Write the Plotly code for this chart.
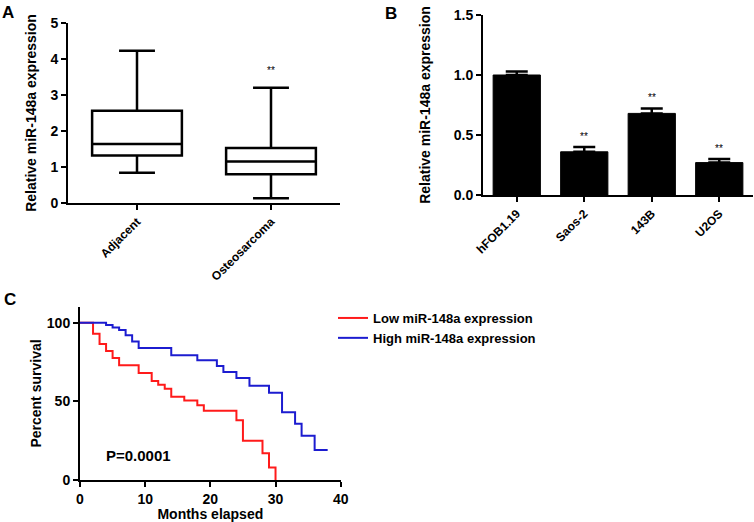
import plotly.graph_objects as go

W, H = 754, 522
FONT = "Liberation Sans, Arial, sans-serif"

# ---------------- Panel A: box plot data ----------------
box_groups = ["Adjacent", "Osteosarcoma"]
box_min = [0.84, 0.13]
box_q1 = [1.32, 0.80]
box_median = [1.64, 1.15]
box_q3 = [2.56, 1.53]
box_max = [4.23, 3.20]
box_sig = ["", "**"]
box_sig_y = [None, 3.67]

# ---------------- Panel B: bar data ----------------
cell_lines = ["hFOB1.19", "Saos-2", "143B", "U2OS"]
cell_expr = [1.00, 0.36, 0.68, 0.27]
cell_err = [0.03, 0.04, 0.04, 0.03]
cell_sig = ["", "**", "**", "**"]
cell_sig_y = [None, 0.49, 0.81, 0.39]

# ---------------- Panel C: Kaplan-Meier data ----------------
low_months = [0, 2, 3, 4, 5, 6, 9, 11, 12, 13, 14, 16, 18, 19, 24, 25, 28, 29, 30]
low_surv = [100, 93, 86.5, 82, 77.5, 73, 68, 63, 60.5, 58, 53, 50.5, 47.5, 44, 38, 25, 17, 8, 0]
high_months = [0, 4, 5, 6, 7, 8, 9, 14, 18, 21, 22, 24, 26, 29, 31, 33, 34, 36, 38]
high_surv = [100, 98.5, 97, 95.3, 92, 88, 84, 79.4, 76.2, 72.5, 68.7, 64.9, 60, 55.5, 43, 35.8, 28.2, 19, 19]
p_text = "P=0.0001"

fig = go.Figure()

for g, lo, q1, md, q3, hi in zip(box_groups, box_min, box_q1, box_median, box_q3, box_max):
    fig.add_trace(go.Box(
        x=[g], q1=[q1], median=[md], q3=[q3], lowerfence=[lo], upperfence=[hi],
        orientation="v", width=0.67, whiskerwidth=0.4,
        fillcolor="white", line=dict(color="black", width=2.5),
        boxpoints=False, showlegend=False, xaxis="x", yaxis="y",
    ))

fig.add_trace(go.Bar(
    x=cell_lines, y=cell_expr, width=0.7,
    marker=dict(color="black", line=dict(color="black", width=1)),
    error_y=dict(type="data", array=cell_err, symmetric=False,
                 arrayminus=[0] * len(cell_err), color="black",
                 thickness=2.5, width=11),
    showlegend=False, xaxis="x2", yaxis="y2",
))

fig.add_trace(go.Scatter(
    x=low_months, y=low_surv, mode="lines", name="Low miR-148a expression",
    line=dict(color="#ff1a1a", width=2, shape="hv"), xaxis="x3", yaxis="y3",
))
fig.add_trace(go.Scatter(
    x=high_months, y=high_surv, mode="lines", name="High miR-148a expression",
    line=dict(color="#1c1cd0", width=2, shape="hv"), xaxis="x3", yaxis="y3",
))


def px_x(a, b):
    return [a / W, b / W]


def px_y(bottom, top):
    return [1 - bottom / H, 1 - top / H]


tick_font = dict(family=FONT, size=14, color="black", weight="bold")
cat_font = dict(family=FONT, size=12, color="black", weight="bold")
title_font = dict(family=FONT, size=14, color="black", weight="bold")

common = dict(showline=True, linecolor="black", linewidth=2, ticks="outside",
              ticklen=5, tickwidth=2, tickcolor="black", showgrid=False,
              zeroline=False, fixedrange=True, automargin=False)

fig.update_layout(
    width=W, height=H, margin=dict(l=0, r=0, t=0, b=0),
    paper_bgcolor="white", plot_bgcolor="white",
    font=dict(family=FONT, color="black"),
    xaxis=dict(**common, domain=px_x(68, 340), range=[-0.515, 1.515],
               anchor="y", tickangle=-45, tickfont=cat_font),
    yaxis=dict(**common, domain=px_y(203, 23), range=[0, 5], dtick=1,
               anchor="x", tickfont=tick_font,
               title=dict(text="Relative miR-148a expression", font=title_font, standoff=11)),
    xaxis2=dict(**common, domain=px_x(483, 753), range=[-0.5, 3.5],
                anchor="y2", tickangle=-45, tickfont=cat_font),
    yaxis2=dict(**common, domain=px_y(195, 15), range=[0, 1.5],
                tickvals=[0, 0.5, 1.0, 1.5], tickformat=".1f",
                anchor="x2", tickfont=tick_font,
                title=dict(text="Relative miR-148a expression", font=title_font, standoff=20)),
    xaxis3=dict(**common, domain=px_x(80, 340.7), range=[0, 40], dtick=10,
                anchor="y3", tickfont=tick_font,
                title=dict(text="Months elapsed", font=title_font, standoff=3)),
    yaxis3=dict(**common, domain=px_y(480, 307), range=[0, 110],
                tickvals=[0, 50, 100], anchor="x3", tickfont=tick_font,
                title=dict(text="Percent survival", font=title_font, standoff=2)),
    legend=dict(x=333 / W, y=1 - 303 / H, xanchor="left", yanchor="top",
                font=dict(family=FONT, size=13, color="black", weight="bold"),
                bgcolor="rgba(0,0,0,0)", borderwidth=0, tracegroupgap=0),
    showlegend=True,
)

annotations = []
for g, s, y in zip(box_groups, box_sig, box_sig_y):
    if s:
        annotations.append(dict(x=g, y=y, xref="x", yref="y", text=s, showarrow=False,
                                font=dict(family=FONT, size=10, color="black")))
for c, s, y in zip(cell_lines, cell_sig, cell_sig_y):
    if s:
        annotations.append(dict(x=c, y=y, xref="x2", yref="y2", text=s, showarrow=False,
                                font=dict(family=FONT, size=10, color="black")))
annotations.append(dict(x=8.9, y=15.3, xref="x3", yref="y3", text=p_text, showarrow=False,
                        font=dict(family=FONT, size=15, color="black", weight="bold")))
for letter, lx, ly in [("A", 0, 1), ("B", 383, 2), ("C", 2, 288)]:
    annotations.append(dict(x=lx / W, y=1 - ly / H, xref="paper", yref="paper",
                            xanchor="left", yanchor="top", text=letter, showarrow=False,
                            font=dict(family=FONT, size=17, color="black", weight="bold")))
fig.update_layout(annotations=annotations)

fig.write_html("out.html", config={"displayModeBar": False},
               post_script="document.body.style.margin='0px';")
